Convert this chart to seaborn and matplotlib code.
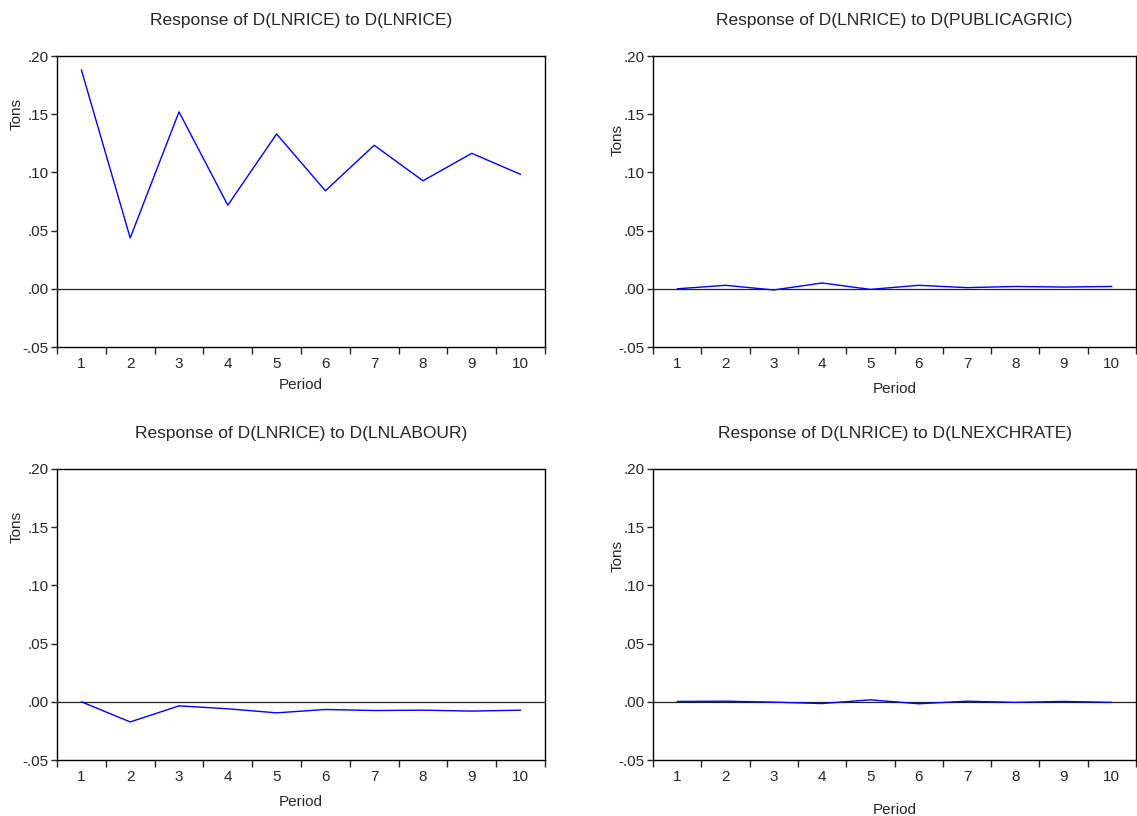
import numpy as np
import pandas as pd
import matplotlib
matplotlib.use("Agg")
import matplotlib.pyplot as plt
import seaborn as sns

# Impulse responses
periods = list(range(1, 11))
resp_lnrice = [0.188, 0.0437, 0.152, 0.0718, 0.133, 0.0842, 0.1233, 0.0928, 0.1164, 0.0983]
resp_publicagric = [0.000, 0.003, -0.001, 0.005, -0.0005, 0.003, 0.001, 0.002, 0.0015, 0.002]
resp_lnlabour = [0.000, -0.0173, -0.0035, -0.006, -0.0095, -0.0066, -0.0075, -0.0072, -0.008, -0.0072]
resp_lnexchrate = [0.0003, 0.0005, -0.0003, -0.0015, 0.0017, -0.0017, 0.0005, -0.0005, 0.0003, -0.0005]

titles = ["Response of D(LNRICE) to D(LNRICE)",
          "Response of D(LNRICE) to D(PUBLICAGRIC)",
          "Response of D(LNRICE) to D(LNLABOUR)",
          "Response of D(LNRICE) to D(LNEXCHRATE)"]
series = [resp_lnrice, resp_publicagric, resp_lnlabour, resp_lnexchrate]
y_ticks = [-0.05, 0.00, 0.05, 0.10, 0.15, 0.20]
y_tick_labels = ["-.05", ".00", ".05", ".10", ".15", ".20"]

sns.set_style("ticks")
plt.rcParams['font.family'] = ['Liberation Sans', 'DejaVu Sans']

W, H = 1137, 816
fig = plt.figure(figsize=(W / 100, H / 100), dpi=100)

# pixel boxes: left, right, top, bottom
boxes = [(57, 545, 56, 347), (653, 1136, 56, 347),
         (57, 545, 469, 760), (653, 1136, 469, 760)]
tons_pos = [(-0.068, 0.80), (-0.058, 0.71), (-0.068, 0.80), (-0.058, 0.70)]
period_pad = [5, 8, 8, 14]

for i, (vals, title) in enumerate(zip(series, titles)):
    l, r, t, b = boxes[i]
    ax = fig.add_axes([l / W, 1 - b / H, (r - l) / W, (b - t) / H])
    df = pd.DataFrame({"Period": periods, "Response": vals})
    ax.axhline(0, color="#222222", lw=0.9, zorder=1)
    sns.lineplot(data=df, x="Period", y="Response", ax=ax, color="#0000ff", lw=1.0, zorder=2)

    ax.set_xlim(0.5, 10.5)
    ax.set_ylim(-0.05, 0.20)
    ax.set_yticks(y_ticks)
    ax.set_yticklabels(y_tick_labels, fontsize=11)
    ax.set_xticks(periods)
    ax.set_xticklabels([str(p) for p in periods], fontsize=11)
    ax.set_xticks(np.arange(0.5, 11, 1), minor=True)
    ax.tick_params(axis="x", which="major", length=0, pad=7)
    ax.tick_params(axis="x", which="minor", length=5, width=1, direction="out")
    ax.tick_params(axis="y", length=4, width=1, direction="out", pad=2)

    for s in ax.spines.values():
        s.set_visible(True)
        s.set_color("black")
        s.set_linewidth(1.0)

    ax.set_title(title, fontsize=12.5, pad=22)
    ax.set_xlabel("Period", fontsize=11, labelpad=period_pad[i])
    ax.set_ylabel("Tons", fontsize=11)
    ax.yaxis.set_label_coords(*tons_pos[i])

fig.savefig("out.png", dpi=100)
